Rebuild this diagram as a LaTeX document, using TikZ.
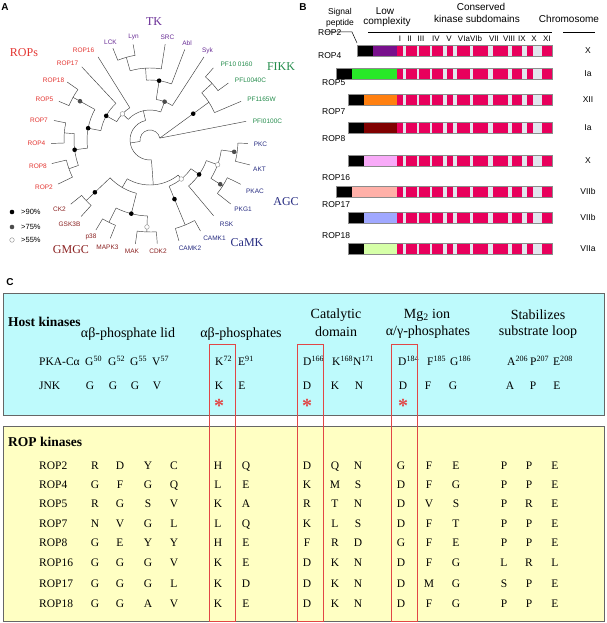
\documentclass[tikz,border=0pt]{standalone}
\usepackage{fontspec}
\setmainfont{Liberation Serif}
\setsansfont{Liberation Sans}
\usetikzlibrary{calc}
\definecolor{roprd}{RGB}{228,52,48}
\definecolor{tkpu}{RGB}{105,45,150}
\definecolor{fikgr}{RGB}{35,140,75}
\definecolor{agcbl}{RGB}{40,45,130}
\definecolor{gmgrd}{RGB}{140,35,35}
\definecolor{kinmg}{RGB}{232,0,92}
\definecolor{kingp}{RGB}{226,230,238}
\definecolor{hostcy}{RGB}{190,250,252}
\definecolor{ropyl}{RGB}{255,255,195}
\definecolor{boxrd}{RGB}{225,70,70}
\definecolor{lcpu}{RGB}{120,16,140}
\definecolor{lcgr}{RGB}{40,232,40}
\definecolor{lcor}{RGB}{255,128,16}
\definecolor{lcdr}{RGB}{128,0,0}
\definecolor{lcpk}{RGB}{248,170,248}
\definecolor{lcsa}{RGB}{255,176,168}
\definecolor{lclv}{RGB}{160,168,255}
\definecolor{lclg}{RGB}{214,255,168}
\tikzset{
  br/.style={draw=black!75, line width=0.45pt},
  dotbase/.style={circle, inner sep=0pt, minimum size=4.6pt},
  d90/.style={dotbase, fill=black},
  d75/.style={dotbase, fill=black!70},
  d55/.style={dotbase, fill=white, draw=black!45, line width=0.4pt},
  leaf/.style={font=\sffamily\fontsize{6.5}{7}\selectfont, inner sep=0pt},
  grp/.style={font=\fontsize{12}{13}\selectfont, inner sep=0pt},
  panel/.style={font=\sffamily\bfseries\fontsize{10}{11}\selectfont, inner sep=0pt},
  hdr/.style={font=\sffamily\fontsize{10}{11}\selectfont, inner sep=0pt},
  rowlab/.style={font=\sffamily\fontsize{8.5}{9}\selectfont, inner sep=0pt},
  sublab/.style={font=\sffamily\fontsize{8}{8}\selectfont, inner sep=0pt},
  res/.style={font=\fontsize{11.5}{12}\selectfont, inner sep=0pt, anchor=base},
  ctitle/.style={font=\fontsize{14}{15}\selectfont, inner sep=0pt},
  ast/.style={font=\bfseries\fontsize{20}{20}\selectfont, text=boxrd, inner sep=0pt, anchor=base}
}
\begin{document}
\begin{tikzpicture}[x=1pt, y=1pt, yscale=-1]
\useasboundingbox (0,0) rectangle (606,623);
\fill[white] (0,0) rectangle (606,623);

% panel A: tree
\node[panel] (pa) at (5,7) {A};
\begin{scope}[shift={(150,140)}, yscale=-1]
  \foreach \ra/\rb/\rr in {168.5/182/86, 193.5/205.6/86, 175.25/199.55/76, 145/157/88,
      151/187.4/63, 133/169.2/50, 122/151.1/38, 100/112/86, 81/106/72, 69/93.5/60,
      57/81.25/41, 36/48.7/84, 23/42.35/70, 346/358/88, 321.6/334/86, 327.8/352/72,
      310/339.9/60, 286/299/92, 292.5/324.95/50, 219/228/88, 239/248/92, 262/274/92,
      243.5/268/76, 223.5/255.75/55, 69.125/136.55/30, 239.625/308.725/45,
      102.84/274.175/20, 11/188.5/10}
    \draw[br] (\ra:\rr) arc[start angle=\ra, end angle=\rb, radius=\rr];
  \foreach \sa/\sr/\sR in {168.5/86/98, 182/86/99, 193.5/86/101, 205.6/86/102, 145/88/101,
      157/88/99, 133/50/100, 122/38/98, 112/86/99, 100/86/97, 81/72/97, 69/60/97, 57/41/99,
      36/84/97, 48.7/84/96, 23/70/99, 11/10/98, 346/88/103, 358/88/98, 321.6/86/103,
      334/86/101, 310/60/99, 286/92/105, 299/92/104, 219/88/102, 228/88/103, 239/92/105,
      248/92/106, 262/92/105, 274/92/104,
      175.25/76/86, 199.55/76/86, 151/63/88, 187.4/63/76, 169.2/50/63, 151.1/38/50,
      136.55/30/38, 106/72/86, 93.5/60/72, 81.25/41/60, 69.125/30/41, 42.35/70/84,
      327.8/72/86, 352/72/88, 339.9/60/72, 324.95/50/60, 292.5/50/92, 308.725/45/50,
      243.5/76/92, 268/76/92, 223.5/55/88, 255.75/55/76, 239.625/45/55,
      102.84/20/30, 274.175/20/45, 188.5/10/20}
    \draw[br] (\sa:\sr) -- (\sa:\sR);
  \coordinate (fkroot) at (11:10);
  \coordinate (fknode) at (32.675:70);
  \draw[br] (fkroot) -- (fknode);
  \node[d90] (fkdot) at ($(fkroot)!0.68!(fknode)$) {};
  \foreach \da/\dr [count=\i] in {187.4/76, 169.2/63, 151.1/50, 81.25/60, 324.95/60,
      292.5/64, 223.5/76, 255.75/76}
    \node[d90] (db\i) at (\da:\dr) {};
  \foreach \da/\dr [count=\i] in {151/80, 69.125/41, 352/85, 327.8/83}
    \node[d75] (dg\i) at (\da:\dr) {};
  \foreach \da/\dr [count=\i] in {136.55/38, 339.9/72, 308.725/50, 268/87}
    \node[d55] (dw\i) at (\da:\dr) {};
\end{scope}
\foreach \lab/\lx/\ly/\lc [count=\i] in {ROP16/83.5/50/roprd, ROP17/67.5/63/roprd,
    ROP18/53.5/80/roprd, ROP5/44.5/99/roprd, ROP7/39/120/roprd, ROP4/36.5/143/roprd,
    ROP8/38/166/roprd, ROP2/44/187/roprd, CK2/59.5/209/gmgrd, GSK3B/69.5/224/gmgrd,
    p38/91/237/gmgrd, MAPK3/107.5/247/gmgrd, MAK/132/251/gmgrd, CDK2/158/251/gmgrd,
    CAMK2/190/248/agcbl, CAMK1/214.5/238/agcbl, RSK/226.5/224/agcbl, PKG1/243/209/agcbl,
    PKAC/255/191/agcbl, AKT/259.5/169/agcbl, PKC/260.5/144/agcbl,
    PFI0100C/267.5/121/fikgr, PF1165W/261.5/99/fikgr, PFL0040C/250.5/80/fikgr,
    PF10 0160/236.5/64/fikgr, Syk/207.5/51/tkpu, Abl/187/43/tkpu, SRC/167.5/37/tkpu,
    Lyn/133.5/37/tkpu, LCK/110.5/42/tkpu}
  \node[leaf, text=\lc] (lf\i) at (\lx,\ly) {\lab};
\foreach \gl/\gx/\gy/\gc [count=\i] in {ROPs/24/53/roprd, TK/154/22/tkpu, FIKK/281/67/fikgr,
    AGC/286/202/agcbl, CaMK/247/243/agcbl, GMGC/71/250/gmgrd}
  \node[grp, text=\gc] (gp\i) at (\gx,\gy) {\gl};
\foreach \ds/\dy/\dt [count=\i] in {d90/212/{>90\%}, d75/227/{>75\%}, d55/240/{>55\%}}{
  \node[\ds] (lgd\i) at (12,\dy) {};
  \node[leaf, font=\sffamily\fontsize{7.5}{8}\selectfont, anchor=west] (lgt\i) at (21,\dy) {\dt};
}

% panel B: domain structure
\node[panel] (pb) at (303,7) {B};
\node[hdr, font=\sffamily\fontsize{8.5}{9}\selectfont] (hsg) at (340,12) {Signal};
\node[hdr, font=\sffamily\fontsize{8.5}{9}\selectfont] (hpp) at (340,23) {peptide};
\node[hdr] (hlw) at (385,11) {Low};
\node[hdr] (hcx) at (387,22) {complexity};
\node[hdr] (hcs) at (481,7) {Conserved};
\node[hdr] (hks) at (477,19) {kinase subdomains};
\node[hdr] (hch) at (569,19) {Chromosome};
\draw[black, line width=0.5pt] (325,32) -- (352,32) -- (357,43);
\draw[black, line width=0.5pt] (368,32) -- (552,32);
\draw[black, line width=0.5pt] (563,32) -- (595,32);
\foreach \sl/\sx [count=\i] in {I/400, II/409.5, III/421, IV/436, V/449, VIaVIb/470,
    VII/494, VIII/509, IX/522, X/534, XI/547}
  \node[sublab] (sd\i) at (\sx,39) {\sl};
\foreach \nm/\lx/\ly/\yc/\xb/\col/\chr [count=\i] in {ROP2/318/33/50.7/357/lcpu/X,
    ROP4/318/56/73.7/336/lcgr/Ia, ROP5/322/83/100/348/lcor/XII,
    ROP7/322/112/128/348/lcdr/Ia, ROP8/322/139/160.3/348/lcpk/X,
    ROP16/322/178/191.3/336/lcsa/VIIb, ROP17/322/205/217.8/348/lclv/VIIb,
    ROP18/322/236/248.8/348/lclg/VIIa}{
  \node[rowlab, anchor=west] (bl\i) at (\lx,\ly) {\nm};
  \fill[black] (\xb,\yc-5.5) rectangle (\xb+16,\yc+5.5);
  \fill[\col] (\xb+16,\yc-5.5) rectangle (397,\yc+5.5);
  \fill[kingp] (397,\yc-5.5) rectangle (552,\yc+5.5);
  \foreach \sa/\sb in {397/403.3, 406/416.7, 419.3/430, 432.3/443.3, 446.7/453.3,
      456.7/470, 473.3/488.3, 492.7/508.3, 511.7/521.7, 526.7/533.3, 541.7/552}
    \fill[kinmg] (\sa,\yc-5.5) rectangle (\sb,\yc+5.5);
  \draw[black!45, line width=0.4pt] (\xb,\yc-5.5) rectangle (552,\yc+5.5);
  \node[rowlab] (bc\i) at (588,\yc) {\chr};
}

% panel C: residues
\node[panel] (pc) at (10,282) {C};
\draw[black!60, line width=0.9pt, fill=hostcy] (3,293) rectangle (604,415);
\draw[black!60, line width=0.9pt, fill=ropyl] (3,426) rectangle (604,621);
\node[ctitle, font=\bfseries\fontsize{13.5}{14}\selectfont, anchor=west] (hk) at (8,322) {Host kinases};
\node[ctitle] (t1) at (128,334) {αβ-phosphate lid};
\node[ctitle] (t2) at (241,334) {αβ-phosphates};
\node[ctitle] (t3a) at (336,315) {Catalytic};
\node[ctitle] (t3b) at (336,332) {domain};
\node[ctitle] (t4a) at (427,315) {Mg\textsubscript{2} ion};
\node[ctitle] (t4b) at (428,332) {α/γ-phosphates};
\node[ctitle] (t5a) at (538,315) {Stabilizes};
\node[ctitle] (t5b) at (538,332) {substrate loop};
\node[res, anchor=base west] (npka) at (39,365.5) {PKA-Cα};
\foreach \rx/\rl/\rs [count=\i] in {85/G/50, 108/G/52, 130/G/55, 152/V/57, 215/K/72,
    238/E/91, 303/D/166, 332/K/168, 353/N/171, 398/D/184, 427/F/185, 450/G/186,
    507/A/206, 530/P/207, 553/E/208}
  \node[res, anchor=base west] (pka\i) at (\rx,365.5) {\rl\textsuperscript{\rs}};
\node[res, anchor=base west] (njnk) at (39,389) {JNK};
\foreach \rx/\rl [count=\i] in {90/G, 113/G, 135/G, 157/V, 219/K, 242/E, 307/D, 335/K,
    359/N, 403/D, 428/F, 453/G, 510/A, 533/P, 557/E}
  \node[res] (jnk\i) at (\rx,389) {\rl};
\foreach \ax [count=\i] in {219,307,403}
  \node[ast] (as\i) at (\ax,412) {*};
\node[ctitle, font=\bfseries\fontsize{13.5}{14}\selectfont, anchor=west] (rk) at (8,442) {ROP kinases};
\foreach \nm/\yb/\seq [count=\i] in {
    ROP2/469/{R,D,Y,C,H,Q,D,Q,N,G,F,E,P,P,E},
    ROP4/488/{G,F,G,Q,L,E,K,M,S,D,F,G,P,P,E},
    ROP5/507.5/{R,G,S,V,K,A,R,T,N,D,V,S,P,R,E},
    ROP7/527.5/{N,V,G,L,L,Q,K,L,S,D,F,T,P,P,E},
    ROP8/546/{G,E,Y,Y,H,E,F,R,D,G,F,E,P,P,E},
    ROP16/566/{G,G,G,V,K,E,D,K,N,D,F,G,L,R,L},
    ROP17/587/{G,G,G,L,K,D,D,K,N,D,M,G,S,P,E},
    ROP18/607/{G,G,A,V,K,E,D,K,N,D,F,G,P,P,E}}{
  \node[res, anchor=base west] (rn\i) at (39,\yb) {\nm};
  \foreach \rl [count=\j] in \seq {
    \pgfmathsetmacro{\cx}{{95,120,148,174,218,246,307,335,358,401,429,456,504,529,555}[\j-1]}
    \node[res] (rr\i-\j) at (\cx,\yb) {\rl};
  }
}
\draw[boxrd, line width=1pt] (209,344) rectangle (235,621);
\draw[boxrd, line width=1pt] (297,344) rectangle (323,621);
\draw[boxrd, line width=1pt] (391,344) rectangle (417,621);
\end{tikzpicture}
\end{document}
